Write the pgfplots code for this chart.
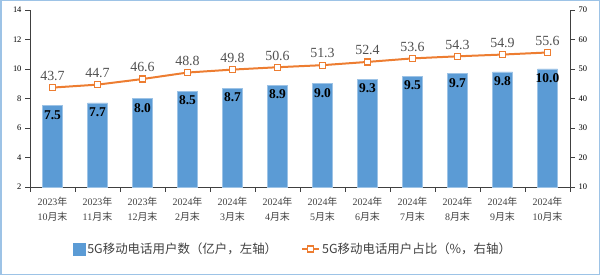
\documentclass[border=0pt]{standalone}
\usepackage{fontspec}
\setmainfont{Liberation Serif}
\newfontfamily\cjk{Noto Sans CJK SC}
\usepackage{pgfplots}
\pgfplotsset{compat=1.18}
\definecolor{barblue}{HTML}{5B9BD5}
\definecolor{baredge}{HTML}{9DC3E6}
\definecolor{lineor}{HTML}{ED7D31}
\definecolor{axgray}{HTML}{404040}
\definecolor{lblgray}{HTML}{505050}
\newcommand{\XL}[2]{#1{\cjk 年}\\#2{\cjk 月末}}
\begin{document}
\begin{tikzpicture}
\begin{axis}[
  at={(30bp,88bp)}, anchor=south west,
  scale only axis, width=540bp, height=177bp,
  xmin=-0.5, xmax=11.5, ymin=2, ymax=14,
  ytick={2,4,...,14},
  axis x line*=bottom, axis y line*=left,
  axis line style={axgray, line width=0.8bp},
  tick align=outside, major tick length=5bp,
  tick style={axgray, line width=0.8bp},
  xtick={-0.5,0.5,...,11.5}, xticklabels={},
  extra x ticks={0,1,...,11},
  extra x tick labels={{\XL{2023}{10}},{\XL{2023}{11}},{\XL{2023}{12}},{\XL{2024}{2}},{\XL{2024}{3}},{\XL{2024}{4}},{\XL{2024}{5}},{\XL{2024}{6}},{\XL{2024}{7}},{\XL{2024}{8}},{\XL{2024}{9}},{\XL{2024}{10}}},
  extra x tick style={major tick length=0pt, tick label style={align=center, font=\fontsize{10}{14.5}\selectfont, text=axgray, yshift=-7bp}},
  yticklabel style={font=\fontsize{8.5}{10}\selectfont, text=black},
  /pgf/number format/assume math mode=true,
  clip=false,
]
\addplot[ybar, bar width=20bp, fill=barblue, draw=baredge, line width=0.8bp,
  point meta=explicit symbolic,
  nodes near coords={\pgfplotspointmeta},
  nodes near coords style={anchor=north, font=\bfseries\fontsize{13.5}{14}\selectfont, text=black, yshift=-1bp},
] table[x=x, y=y, meta=l] {
x y l
0 7.5 7.5
1 7.7 7.7
2 8.0 8.0
3 8.5 8.5
4 8.7 8.7
5 8.9 8.9
6 9.0 9.0
7 9.3 9.3
8 9.5 9.5
9 9.7 9.7
10 9.8 9.8
11 10.0 10.0
};
\end{axis}
\begin{axis}[
  at={(30bp,88bp)}, anchor=south west,
  scale only axis, width=540bp, height=177bp,
  xmin=-0.5, xmax=11.5, ymin=10, ymax=70,
  ytick={10,20,...,70},
  axis x line=none, axis y line*=right,
  axis line style={axgray, line width=0.8bp},
  tick align=outside, major tick length=5bp,
  tick style={axgray, line width=0.8bp},
  yticklabel style={font=\fontsize{8.5}{10}\selectfont, text=black},
  /pgf/number format/assume math mode=true,
  clip=false,
  legend columns=2,
  legend style={at={(0.487,-0.35)}, anchor=center, draw=none, fill=none,
    font=\cjk\fontsize{12.5}{14}\selectfont, text=axgray,
    /tikz/every even column/.append style={column sep=22bp}},
]
\addlegendimage{legend image code/.code={\fill[barblue] (0bp,-6bp) rectangle (12bp,6bp);}}
\addlegendentry{5G移动电话用户数（亿户，左轴）}
\addplot[lineor, line width=2bp, mark=square*, mark size=3bp,
  mark options={fill=white, draw=lineor, line width=1.3bp},
  point meta=explicit symbolic,
  nodes near coords={\pgfplotspointmeta},
  nodes near coords style={anchor=south, font=\fontsize{14}{15}\selectfont, text=lblgray, yshift=3bp},
] table[x=x, y=y, meta=l] {
x y l
0 43.7 43.7
1 44.7 44.7
2 46.6 46.6
3 48.8 48.8
4 49.8 49.8
5 50.6 50.6
6 51.3 51.3
7 52.4 52.4
8 53.6 53.6
9 54.3 54.3
10 54.9 54.9
11 55.6 55.6
};
\addlegendentry{5G移动电话用户占比（\%，右轴）}
\end{axis}
\pgfresetboundingbox
\useasboundingbox (0,0) rectangle (600bp,275bp);
\draw[baredge, line width=1.5bp] (0.75bp,0.75bp) rectangle (599.25bp,274.25bp);
\end{tikzpicture}
\end{document}
